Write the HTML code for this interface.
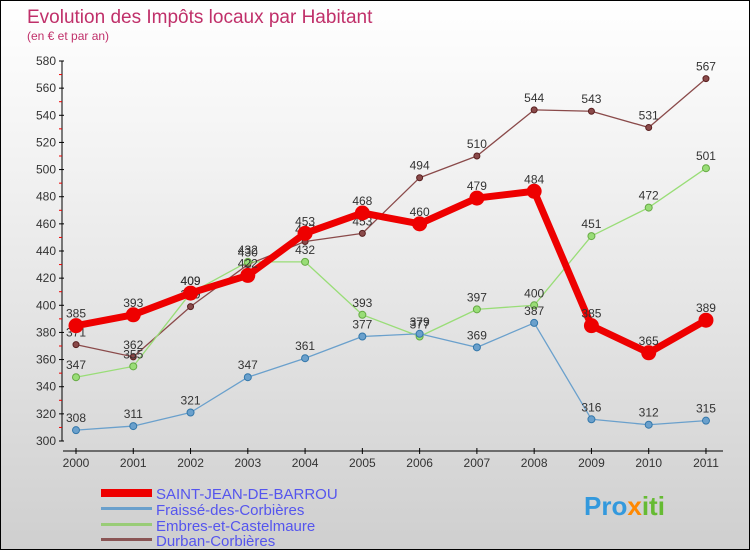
<!DOCTYPE html>
<html><head><meta charset="utf-8"><style>
body{margin:0}
#c{width:748px;height:548px;border:1px solid #000;background:linear-gradient(#fff,#f2f2f2 30%,#cfcfcf);position:relative;font-family:"Liberation Sans",sans-serif}
</style></head><body>
<div id="c">
<svg id="s" width="748" height="548">
<text x="26" y="22" font-size="19" fill="#c0306a">Evolution des Impôts locaux par Habitant</text>
<text x="26" y="39" font-size="12" fill="#c0306a">(en € et par an)</text>
<g id="axes"></g><g id="series"></g>
<g>
<rect x="100" y="488" width="51" height="8" fill="#e00"/>
<text x="155" y="498" font-size="15" fill="#5555ee">SAINT-JEAN-DE-BARROU</text>
<rect x="100" y="506" width="51" height="3" fill="#6aa0cc"/>
<text x="155" y="514" font-size="15" fill="#5555ee">Fraissé-des-Corbières</text>
<rect x="100" y="522" width="51" height="3" fill="#99cc77"/>
<text x="155" y="530" font-size="15" fill="#5555ee">Embres-et-Castelmaure</text>
<rect x="100" y="537" width="51" height="3" fill="#8a5555"/>
<text x="155" y="545" font-size="15" fill="#5555ee">Durban-Corbières</text>
</g>
<text x="583" y="514" font-size="26" font-weight="bold" fill="#3399dd">Pro<tspan fill="#ff8800">x</tspan><tspan fill="#66bb33">iti</tspan></text>
</svg></div>
<script>
const years=[2000,2001,2002,2003,2004,2005,2006,2007,2008,2009,2010,2011];
const yTicks=[300,320,340,360,380,400,420,440,460,480,500,520,540,560,580];
const saintJean=[385,393,409,422,453,468,460,479,484,385,365,389];
const fraisse=[308,311,321,347,361,377,379,369,387,316,312,315];
const embres=[347,355,409,432,432,393,377,397,400,451,472,501];
const durban=[371,362,399,430,447,453,494,510,544,543,531,567];
const NS="http://www.w3.org/2000/svg";
const xs=i=>75+i*57.27;
const ys=v=>440-(v-300)*380/280;
function mk(t,a,p){const e=document.createElementNS(NS,t);for(const k in a)e.setAttribute(k,a[k]);p.appendChild(e);return e;}
const ax=document.getElementById('axes');
let l=mk('line',{x1:61,y1:60,x2:61,y2:440,stroke:'#000'},ax);


l=mk('line',{x1:62,y1:450,x2:722,y2:450,stroke:'#000'},ax);


yTicks.forEach((v,i)=>{
 mk('line',{x1:58,x2:63,y1:ys(v),y2:ys(v),stroke:'#000'},ax);
 if(i<yTicks.length-1)mk('line',{x1:58,x2:61,y1:ys(v+10),y2:ys(v+10),stroke:'#e00'},ax);
 const t=mk('text',{x:55,y:ys(v)+4,'font-size':12,fill:'#333','text-anchor':'end'},ax);
 t.textContent=v;
 
 
});
years.forEach((y,i)=>{
 mk('line',{x1:xs(i),x2:xs(i),y1:447,y2:453,stroke:'#000'},ax);
 const t=mk('text',{x:xs(i),y:466,'font-size':12,fill:'#333','text-anchor':'middle'},ax);
 t.textContent=y;
 
 
});
const sg=document.getElementById('series');
function series(d,col,w,r,name,dark){
 const g=mk('g',{},sg);
 
 
 mk('polyline',{points:d.map((v,i)=>xs(i)+','+ys(v)).join(' '),fill:'none',stroke:col,'stroke-width':w,'stroke-linejoin':'round'},g);
 d.forEach((v,i)=>{
  const c=mk('circle',{cx:xs(i),cy:ys(v),r:r,fill:col,stroke:dark,'stroke-width':1},g);
  
  
  const t=mk('text',{x:xs(i),y:ys(v)-8,'font-size':12,fill:'#333','text-anchor':'middle'},g);
  t.textContent=v;
  
  
 });
}
series(durban,'#8a4a4a',1.3,3,'durban-line','#5a2020');
series(embres,'#99dd77',1.3,3.5,'embres-line','#66aa44');
series(fraisse,'#6aa0cc',1.3,3.5,'fraisse-line','#3377aa');
series(saintJean,'#ee0000',7,7,'saint-jean-line','#ee0000');
</script>
</body></html>
